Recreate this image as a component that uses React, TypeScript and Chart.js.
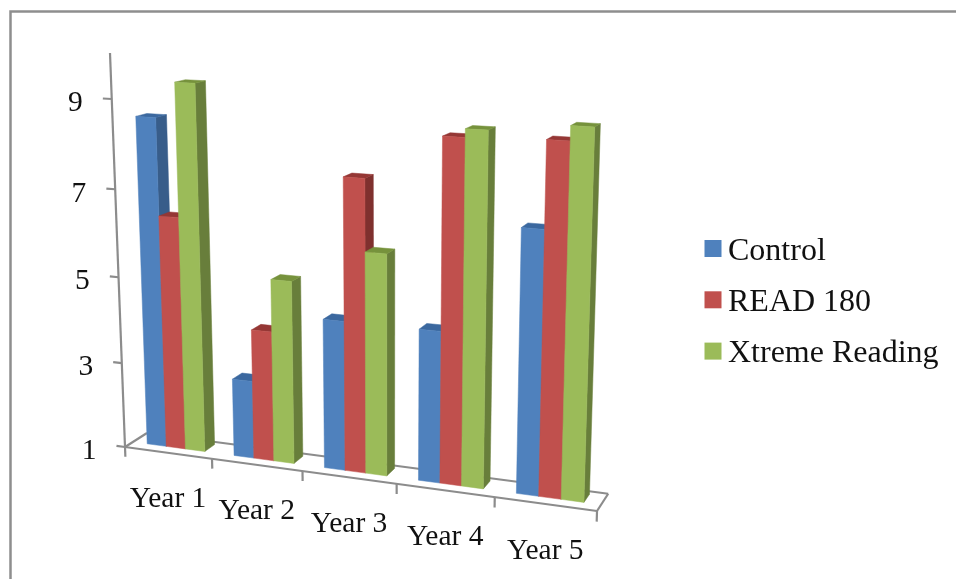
import React, { useEffect, useRef } from "react";
import { Chart, registerables } from "chart.js";

Chart.register(...registerables);

const categories = ["Year 1", "Year 2", "Year 3", "Year 4", "Year 5"];
const controlValues = [8.59, 2.8, 4.4, 4.4, 6.78];
const read180Values = [6.39, 3.99, 7.57, 8.57, 8.63];
const xtremeValues = [9.39, 5.18, 5.98, 8.75, 8.94];
const valueTicks = [1, 3, 5, 7, 9];
const AXIS_MIN = 1;
const AXIS_MAX = 10;

// Face colours for each series: front, right side, top.
const faces = [
  { front: "#4F81BD", side: "#385D8A", top: "#3B689F" },
  { front: "#C0504D", side: "#7F302E", top: "#953735" },
  { front: "#9BBB59", side: "#687E3B", top: "#76923C" },
];

const SERIF = "'Liberation Serif', 'Times New Roman', serif";
const AXIS_COLOR = "#8C8C8C";
const FRAME_COLOR = "#8E8E8E";

// Projective camera: plot space (X along categories, Y up the value axis,
// Z into the depth of the floor, each 0..1) to canvas pixels.
const DEPTH_FRONT = 0.36;
const DEPTH_BACK = 0.84;
function project(X: number, Y: number, Z: number): [number, number] {
  const w = 1 - 0.096 * X - 0.054 * Y + 0.0258 * Z;
  const px = 125 + 414.7 * X - 20.94 * Y + 25.79 * Z;
  const py = 447 + 14.94 * X - 396.86 * Y - 2.83 * Z;
  return [px / w, py / w];
}

function polygon(ctx: CanvasRenderingContext2D, pts: [number, number][], color: string) {
  ctx.beginPath();
  pts.forEach(([x, y], i) => (i ? ctx.lineTo(x, y) : ctx.moveTo(x, y)));
  ctx.closePath();
  ctx.fillStyle = color;
  ctx.strokeStyle = color;
  ctx.lineWidth = 0.5;
  ctx.fill();
  ctx.stroke();
}

function segment(ctx: CanvasRenderingContext2D, a: [number, number], b: [number, number]) {
  ctx.beginPath();
  ctx.moveTo(a[0], a[1]);
  ctx.lineTo(b[0], b[1]);
  ctx.stroke();
}

// Draws the frame, floor, value axis and category ticks behind the bars.
function drawAxes(chart: any) {
  const { ctx, chartArea, scales } = chart;
  const h = chartArea.bottom - chartArea.top;
  ctx.save();
  ctx.strokeStyle = FRAME_COLOR;
  ctx.lineWidth = 2.5;
  ctx.strokeRect(10.5, 11.5, 1200, 900);

  ctx.strokeStyle = AXIS_COLOR;
  ctx.lineWidth = 2.2;
  segment(ctx, project(0, 0, 0), project(0, 1, 0));
  segment(ctx, project(0, 0, 0), project(1, 0, 0));
  segment(ctx, project(0, 0, 1), project(1, 0, 1));
  segment(ctx, project(0, 0, 0), project(0, 0, 1));
  segment(ctx, project(1, 0, 0), project(1, 0, 1));

  ctx.fillStyle = "#111";
  ctx.font = `29.5px ${SERIF}`;
  ctx.textAlign = "right";
  ctx.textBaseline = "alphabetic";
  valueTicks.forEach((v) => {
    const Y = (chartArea.bottom - scales.y.getPixelForValue(v)) / h;
    const start = project(-0.02, Y, 0);
    segment(ctx, start, project(0, Y, 0));
    ctx.fillText(String(v), start[0] - 20, start[1] + 13);
  });

  for (let i = 0; i <= categories.length; i++) {
    const X = i / categories.length;
    segment(ctx, project(X, 0, 0), project(X, -0.026, 0));
  }
  ctx.textAlign = "center";
  categories.forEach((label, i) => {
    const X = (scales.x.getPixelForValue(i) - chartArea.left) / (chartArea.right - chartArea.left);
    const [x, y] = project(X, 0, 0);
    ctx.fillText(label, x, y + 54.6);
  });
  ctx.restore();
}

// Projects each bar element laid out by the bar controller into a solid box.
function drawBars(chart: any) {
  const { ctx, chartArea } = chart;
  const w = chartArea.right - chartArea.left;
  const h = chartArea.bottom - chartArea.top;
  ctx.save();
  categories.forEach((_, i) => {
    chart.data.datasets.forEach((_d: any, s: number) => {
      const bar = chart.getDatasetMeta(s).data[i] as any;
      const xl = (bar.x - bar.width / 2 - chartArea.left) / w;
      const xr = (bar.x + bar.width / 2 - chartArea.left) / w;
      const top = (chartArea.bottom - bar.y) / h;
      const base = (chartArea.bottom - bar.base) / h;
      const f = faces[s];
      polygon(ctx, [project(xr, base, DEPTH_FRONT), project(xr, top, DEPTH_FRONT), project(xr, top, DEPTH_BACK), project(xr, base, DEPTH_BACK)], f.side);
      polygon(ctx, [project(xl, top, DEPTH_FRONT), project(xr, top, DEPTH_FRONT), project(xr, top, DEPTH_BACK), project(xl, top, DEPTH_BACK)], f.top);
      polygon(ctx, [project(xl, base, DEPTH_FRONT), project(xr, base, DEPTH_FRONT), project(xr, top, DEPTH_FRONT), project(xl, top, DEPTH_FRONT)], f.front);
    });
  });
  ctx.restore();
}

function drawLegend(chart: any) {
  const { ctx } = chart;
  ctx.save();
  ctx.font = `32px ${SERIF}`;
  ctx.textAlign = "left";
  ctx.textBaseline = "alphabetic";
  chart.data.datasets.forEach((d: any, s: number) => {
    const y = 240 + s * 51.3;
    ctx.fillStyle = faces[s].front;
    ctx.fillRect(704.5, y, 17, 17);
    ctx.fillStyle = "#111";
    ctx.fillText(d.label, 728, y + 19.5);
  });
  ctx.restore();
}

const box3d = {
  id: "box3d",
  beforeDraw: drawAxes,
  beforeDatasetDraw: () => false,
  afterDatasetsDraw(chart: any) {
    drawBars(chart);
    drawLegend(chart);
  },
};

export default function App() {
  const ref = useRef<HTMLCanvasElement>(null);
  useEffect(() => {
    const chart = new Chart(ref.current!, {
      type: "bar",
      data: {
        labels: categories,
        datasets: [
          { label: "Control", data: controlValues, backgroundColor: faces[0].front, base: AXIS_MIN },
          { label: "READ 180", data: read180Values, backgroundColor: faces[1].front, base: AXIS_MIN },
          { label: "Xtreme Reading", data: xtremeValues, backgroundColor: faces[2].front, base: AXIS_MIN },
        ],
      },
      options: {
        responsive: false,
        animation: false,
        layout: { padding: { left: 125, right: 359, top: 53, bottom: 132 } },
        datasets: { bar: { categoryPercentage: 0.667, barPercentage: 1 } },
        scales: {
          x: { display: false },
          y: { display: false, min: AXIS_MIN, max: AXIS_MAX, ticks: { stepSize: 2 } },
        },
        plugins: { legend: { display: false }, tooltip: { enabled: false } },
      },
      plugins: [box3d],
    } as any);
    return () => chart.destroy();
  }, []);
  return (
    <canvas
      ref={ref}
      width={956}
      height={579}
      style={{ position: "absolute", left: 0, top: 0, background: "#fff" }}
    />
  );
}
